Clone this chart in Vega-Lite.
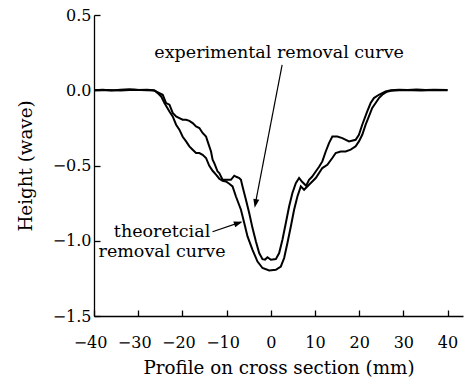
{
  "$schema": "https://vega.github.io/schema/vega-lite/v6.json",
  "width": 369,
  "height": 301,
  "autosize": "none",
  "padding": {"left": 94, "top": 15, "right": 1, "bottom": 61},
  "background": "white",
  "config": {
    "view": {"stroke": null},
    "font": "DejaVu Serif",
    "axis": {
      "domainColor": "black",
      "domainWidth": 1.3,
      "tickColor": "black",
      "tickWidth": 1.3,
      "tickSize": -6,
      "grid": false,
      "labelOverlap": false,
      "labelFlush": false,
      "labelFont": "DejaVu Serif",
      "labelFontSize": 16,
      "labelColor": "black",
      "titleFont": "DejaVu Serif",
      "titleFontSize": 18.3,
      "titleFontWeight": "normal",
      "titleColor": "black"
    }
  },
  "encoding": {
    "x": {
      "field": "x",
      "type": "quantitative",
      "scale": {"domain": [-40, 43.5], "nice": false, "zero": false},
      "axis": {
        "title": "Profile on cross section (mm)",
        "values": [-40, -30, -20, -10, 0, 10, 20, 30, 40],
        "format": "d",
        "labelPadding": 19,
        "labelBaseline": "line-top",
        "labelLineHeight": 26,
        "titlePadding": 9,
        "labelOffset": {"condition": {"test": "datum.value < 0", "value": -4}, "value": 0}
      }
    },
    "y": {
      "field": "y",
      "type": "quantitative",
      "scale": {"domain": [-1.5, 0.5], "nice": false, "zero": false},
      "axis": {
        "title": "Height (wave)",
        "values": [-1.5, -1.0, -0.5, 0.0, 0.5],
        "format": ".1f",
        "labelPadding": 9,
        "titlePadding": 17
      }
    }
  },
  "layer": [
    {
      "data": {"values": [
        {"s": "experimental", "x": -40, "y": 0}, {"s": "experimental", "x": -38, "y": 0.003}, {"s": "experimental", "x": -36, "y": -0.002}, {"s": "experimental", "x": -34, "y": 0.004}, {"s": "experimental", "x": -32, "y": 0.006}, {"s": "experimental", "x": -30, "y": 0.001}, {"s": "experimental", "x": -28, "y": 0.003}, {"s": "experimental", "x": -26.5, "y": 0},
        {"s": "experimental", "x": -25.19, "y": -0.019}, {"s": "experimental", "x": -24.45, "y": -0.03}, {"s": "experimental", "x": -23.68, "y": -0.085}, {"s": "experimental", "x": -22.93, "y": -0.096}, {"s": "experimental", "x": -22.19, "y": -0.151}, {"s": "experimental", "x": -21.42, "y": -0.174}, {"s": "experimental", "x": -20.68, "y": -0.185}, {"s": "experimental", "x": -19.93, "y": -0.196}, {"s": "experimental", "x": -19.16, "y": -0.196}, {"s": "experimental", "x": -18.42, "y": -0.203}, {"s": "experimental", "x": -17.67, "y": -0.218}, {"s": "experimental", "x": -16.91, "y": -0.241}, {"s": "experimental", "x": -16.16, "y": -0.251}, {"s": "experimental", "x": -15.42, "y": -0.284}, {"s": "experimental", "x": -14.65, "y": -0.307}, {"s": "experimental", "x": -14.29, "y": -0.34}, {"s": "experimental", "x": -13.91, "y": -0.373}, {"s": "experimental", "x": -13.52, "y": -0.407}, {"s": "experimental", "x": -13.16, "y": -0.462}, {"s": "experimental", "x": -12.78, "y": -0.484}, {"s": "experimental", "x": -12.03, "y": -0.54}, {"s": "experimental", "x": -11.65, "y": -0.55}, {"s": "experimental", "x": -10.9, "y": -0.595}, {"s": "experimental", "x": -10.14, "y": -0.595}, {"s": "experimental", "x": -9.01, "y": -0.595}, {"s": "experimental", "x": -8.26, "y": -0.568}, {"s": "experimental", "x": -7.81, "y": -0.575}, {"s": "experimental", "x": -7.13, "y": -0.583}, {"s": "experimental", "x": -6.75, "y": -0.595}, {"s": "experimental", "x": -6.39, "y": -0.639}, {"s": "experimental", "x": -5.62, "y": -0.728}, {"s": "experimental", "x": -4.88, "y": -0.816}, {"s": "experimental", "x": -4.13, "y": -0.916}, {"s": "experimental", "x": -3.36, "y": -1.005}, {"s": "experimental", "x": -2.62, "y": -1.082}, {"s": "experimental", "x": -1.87, "y": -1.122}, {"s": "experimental", "x": -1.3, "y": -1.125}, {"s": "experimental", "x": -0.74, "y": -1.11}, {"s": "experimental", "x": 0.02, "y": -1.126}, {"s": "experimental", "x": 1.15, "y": -1.122}, {"s": "experimental", "x": 1.9, "y": -1.082}, {"s": "experimental", "x": 2.64, "y": -0.993}, {"s": "experimental", "x": 3.41, "y": -0.882}, {"s": "experimental", "x": 4.15, "y": -0.772}, {"s": "experimental", "x": 4.9, "y": -0.683}, {"s": "experimental", "x": 5.67, "y": -0.617}, {"s": "experimental", "x": 6.41, "y": -0.583}, {"s": "experimental", "x": 7.09, "y": -0.608}, {"s": "experimental", "x": 8.0, "y": -0.635}, {"s": "experimental", "x": 8.66, "y": -0.595}, {"s": "experimental", "x": 9.34, "y": -0.575}, {"s": "experimental", "x": 10.18, "y": -0.54}, {"s": "experimental", "x": 10.93, "y": -0.508}, {"s": "experimental", "x": 11.67, "y": -0.473}, {"s": "experimental", "x": 12.44, "y": -0.407}, {"s": "experimental", "x": 13.18, "y": -0.351}, {"s": "experimental", "x": 13.93, "y": -0.307}, {"s": "experimental", "x": 15.06, "y": -0.307}, {"s": "experimental", "x": 16.19, "y": -0.318}, {"s": "experimental", "x": 17.7, "y": -0.34}, {"s": "experimental", "x": 19.21, "y": -0.329}, {"s": "experimental", "x": 19.95, "y": -0.296}, {"s": "experimental", "x": 20.7, "y": -0.229}, {"s": "experimental", "x": 21.83, "y": -0.141}, {"s": "experimental", "x": 22.6, "y": -0.085}, {"s": "experimental", "x": 23.34, "y": -0.052}, {"s": "experimental", "x": 24.47, "y": -0.03}, {"s": "experimental", "x": 25.98, "y": -0.008}, {"s": "experimental", "x": 27.18, "y": 0}, {"s": "experimental", "x": 29, "y": 0.004}, {"s": "experimental", "x": 31, "y": 0.001}, {"s": "experimental", "x": 33, "y": 0.005}, {"s": "experimental", "x": 35, "y": 0.002}, {"s": "experimental", "x": 37, "y": 0.003}, {"s": "experimental", "x": 40, "y": 0.001},
        {"s": "theoretical", "x": -40, "y": 0}, {"s": "theoretical", "x": -37, "y": 0.002}, {"s": "theoretical", "x": -34, "y": -0.001}, {"s": "theoretical", "x": -31, "y": 0.003}, {"s": "theoretical", "x": -28, "y": 0}, {"s": "theoretical", "x": -26.3, "y": -0.002}, {"s": "theoretical", "x": -25.58, "y": -0.019}, {"s": "theoretical", "x": -24.81, "y": -0.041}, {"s": "theoretical", "x": -24.06, "y": -0.085}, {"s": "theoretical", "x": -22.93, "y": -0.141}, {"s": "theoretical", "x": -22.19, "y": -0.174}, {"s": "theoretical", "x": -21.42, "y": -0.229}, {"s": "theoretical", "x": -20.68, "y": -0.262}, {"s": "theoretical", "x": -19.93, "y": -0.309}, {"s": "theoretical", "x": -19.16, "y": -0.34}, {"s": "theoretical", "x": -18.42, "y": -0.373}, {"s": "theoretical", "x": -17.67, "y": -0.395}, {"s": "theoretical", "x": -16.91, "y": -0.417}, {"s": "theoretical", "x": -16.16, "y": -0.417}, {"s": "theoretical", "x": -15.42, "y": -0.429}, {"s": "theoretical", "x": -14.65, "y": -0.45}, {"s": "theoretical", "x": -13.91, "y": -0.502}, {"s": "theoretical", "x": -13.16, "y": -0.535}, {"s": "theoretical", "x": -12.39, "y": -0.561}, {"s": "theoretical", "x": -11.65, "y": -0.588}, {"s": "theoretical", "x": -10.9, "y": -0.601}, {"s": "theoretical", "x": -10.14, "y": -0.606}, {"s": "theoretical", "x": -9.39, "y": -0.621}, {"s": "theoretical", "x": -8.65, "y": -0.639}, {"s": "theoretical", "x": -7.88, "y": -0.706}, {"s": "theoretical", "x": -6.75, "y": -0.794}, {"s": "theoretical", "x": -6.0, "y": -0.882}, {"s": "theoretical", "x": -5.26, "y": -0.971}, {"s": "theoretical", "x": -4.13, "y": -1.06}, {"s": "theoretical", "x": -3.0, "y": -1.138}, {"s": "theoretical", "x": -1.87, "y": -1.181}, {"s": "theoretical", "x": -0.36, "y": -1.197}, {"s": "theoretical", "x": 1.15, "y": -1.193}, {"s": "theoretical", "x": 2.28, "y": -1.171}, {"s": "theoretical", "x": 3.03, "y": -1.115}, {"s": "theoretical", "x": 3.77, "y": -1.015}, {"s": "theoretical", "x": 4.54, "y": -0.905}, {"s": "theoretical", "x": 5.28, "y": -0.794}, {"s": "theoretical", "x": 6.03, "y": -0.706}, {"s": "theoretical", "x": 6.8, "y": -0.639}, {"s": "theoretical", "x": 7.54, "y": -0.661}, {"s": "theoretical", "x": 8.66, "y": -0.628}, {"s": "theoretical", "x": 10.18, "y": -0.583}, {"s": "theoretical", "x": 11.67, "y": -0.517}, {"s": "theoretical", "x": 12.8, "y": -0.495}, {"s": "theoretical", "x": 13.93, "y": -0.45}, {"s": "theoretical", "x": 14.69, "y": -0.417}, {"s": "theoretical", "x": 15.82, "y": -0.407}, {"s": "theoretical", "x": 16.95, "y": -0.407}, {"s": "theoretical", "x": 18.08, "y": -0.395}, {"s": "theoretical", "x": 19.21, "y": -0.373}, {"s": "theoretical", "x": 19.95, "y": -0.34}, {"s": "theoretical", "x": 20.7, "y": -0.296}, {"s": "theoretical", "x": 21.47, "y": -0.229}, {"s": "theoretical", "x": 22.21, "y": -0.174}, {"s": "theoretical", "x": 22.96, "y": -0.118}, {"s": "theoretical", "x": 23.73, "y": -0.085}, {"s": "theoretical", "x": 24.47, "y": -0.052}, {"s": "theoretical", "x": 25.22, "y": -0.03}, {"s": "theoretical", "x": 26.28, "y": -0.01}, {"s": "theoretical", "x": 27.18, "y": -0.003}, {"s": "theoretical", "x": 30, "y": 0.002}, {"s": "theoretical", "x": 34, "y": -0.001}, {"s": "theoretical", "x": 37, "y": 0.002}, {"s": "theoretical", "x": 40, "y": 0}
      ]},
      "mark": {"type": "line", "color": "black", "strokeWidth": 2},
      "encoding": {"detail": {"field": "s", "type": "nominal"}}
    },
    {
      "data": {"values": [
        {"label": "experimental removal curve", "x": 1.9, "y": 0.215},
        {"label": "theoretcial", "x": -24.6, "y": -0.973},
        {"label": "removal curve", "x": -24.6, "y": -1.106}
      ]},
      "mark": {"type": "text", "font": "DejaVu Serif", "fontSize": 17.5, "align": "center", "baseline": "alphabetic", "color": "black"},
      "encoding": {"text": {"field": "label", "type": "nominal"}}
    },
    {
      "data": {"values": [
        {"x": 2.57, "y": 0.169, "x2": -3.4, "y2": -0.74},
        {"x": -13.18, "y": -0.94, "x2": -6.8, "y2": -0.876}
      ]},
      "mark": {"type": "rule", "color": "black", "strokeWidth": 1.2},
      "encoding": {"x2": {"field": "x2"}, "y2": {"field": "y2"}}
    },
    {
      "data": {"values": [{"x": -3.64, "y": -0.781}]},
      "mark": {"type": "point", "shape": "M0,0 L-0.35,1 L0.35,1 Z", "filled": true, "color": "black", "opacity": 1, "size": 300, "angle": 191},
      "encoding": {}
    },
    {
      "data": {"values": [{"x": -6.39, "y": -0.874}]},
      "mark": {"type": "point", "shape": "M0,0 L-0.35,1 L0.35,1 Z", "filled": true, "color": "black", "opacity": 1, "size": 300, "angle": 72},
      "encoding": {}
    }
  ]
}
